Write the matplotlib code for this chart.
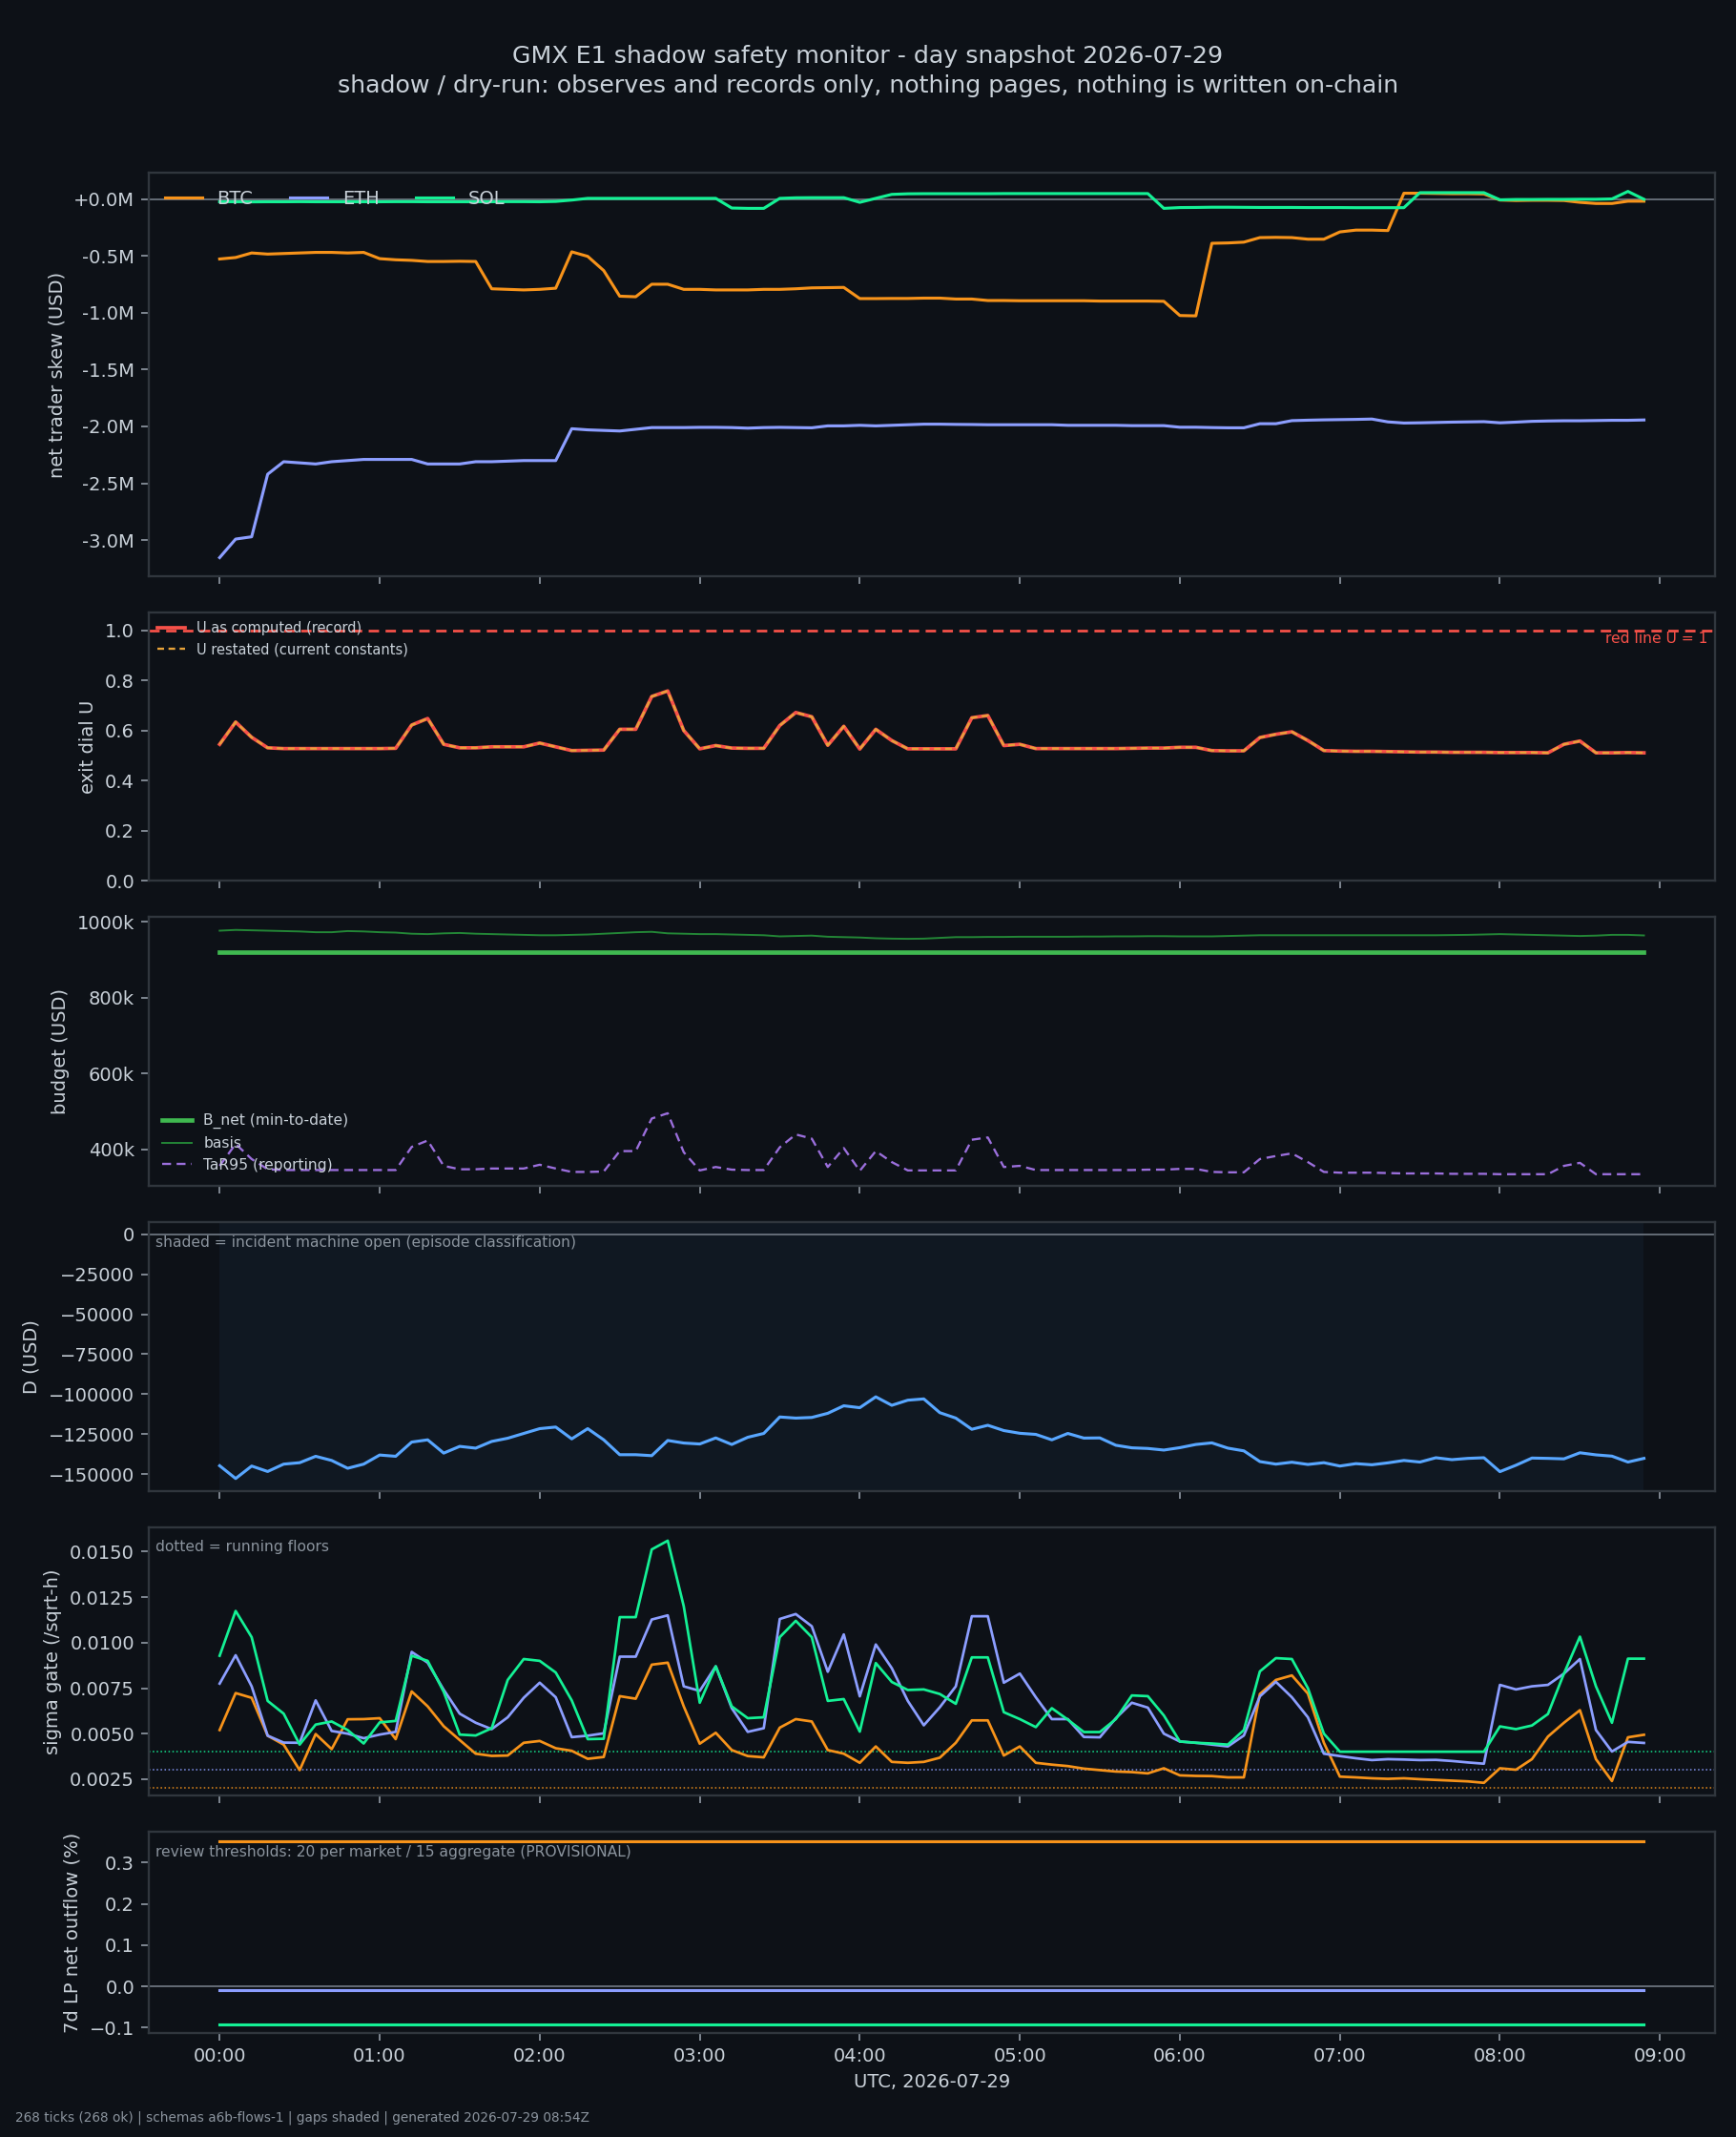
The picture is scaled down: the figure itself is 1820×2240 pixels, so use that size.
import numpy as np
import pandas as pd
import matplotlib
matplotlib.use("Agg")
import matplotlib.pyplot as plt
import matplotlib.dates as mdates
import matplotlib.transforms as mtransforms
from matplotlib.ticker import FuncFormatter, MultipleLocator

# ---- data (one sample every 6 min, 00:00 .. 08:54 UTC) ----
times = pd.date_range("2026-07-29 00:00", periods=90, freq="6min")

# net trader skew, million USD
skew_btc = [-0.528, -0.515, -0.475, -0.485, -0.48, -0.475, -0.47, -0.47, -0.475, -0.47,
            -0.525, -0.535, -0.54, -0.55, -0.55, -0.548, -0.55, -0.79, -0.795, -0.80,
            -0.795, -0.785, -0.465, -0.505, -0.63, -0.855, -0.86, -0.75, -0.75, -0.795,
            -0.795, -0.80, -0.80, -0.80, -0.795, -0.795, -0.79, -0.782, -0.78, -0.778,
            -0.876, -0.876, -0.875, -0.875, -0.872, -0.872, -0.88, -0.88, -0.893, -0.893,
            -0.895, -0.895, -0.895, -0.895, -0.895, -0.898, -0.898, -0.898, -0.898, -0.90,
            -1.025, -1.028, -0.39, -0.387, -0.38, -0.34, -0.338, -0.34, -0.354, -0.354,
            -0.29, -0.274, -0.274, -0.278, 0.05, 0.05, 0.048, 0.046, 0.046, 0.044,
            -0.01, -0.014, -0.012, -0.012, -0.014, -0.03, -0.04, -0.04, -0.02, -0.02]
skew_eth = [-3.153, -2.99, -2.97, -2.42, -2.31, -2.32, -2.33, -2.31, -2.30, -2.29,
            -2.29, -2.29, -2.29, -2.33, -2.33, -2.33, -2.31, -2.31, -2.305, -2.30,
            -2.30, -2.30, -2.02, -2.03, -2.035, -2.04, -2.025, -2.01, -2.01, -2.01,
            -2.008, -2.008, -2.01, -2.015, -2.01, -2.008, -2.01, -2.012, -1.995, -1.995,
            -1.99, -1.995, -1.99, -1.985, -1.98, -1.98, -1.982, -1.983, -1.985, -1.985,
            -1.985, -1.985, -1.985, -1.99, -1.99, -1.99, -1.99, -1.993, -1.993, -1.993,
            -2.007, -2.007, -2.01, -2.012, -2.012, -1.976, -1.976, -1.949, -1.945, -1.942,
            -1.94, -1.938, -1.935, -1.96, -1.97, -1.968, -1.965, -1.962, -1.96, -1.958,
            -1.968, -1.962, -1.955, -1.952, -1.95, -1.95, -1.948, -1.946, -1.946, -1.943]
skew_sol = [-0.025, -0.025, -0.026, -0.025, -0.025, -0.024, -0.025, -0.025, -0.025, -0.025,
            -0.025, -0.024, -0.024, -0.025, -0.025, -0.025, -0.025, -0.025, -0.024, -0.024,
            -0.025, -0.022, -0.01, 0.005, 0.005, 0.005, 0.005, 0.005, 0.005, 0.005,
            0.005, 0.005, -0.08, -0.083, -0.083, 0.005, 0.01, 0.011, 0.011, 0.011,
            -0.03, 0.005, 0.04, 0.045, 0.046, 0.046, 0.046, 0.046, 0.046, 0.047,
            0.047, 0.047, 0.047, 0.047, 0.047, 0.047, 0.047, 0.047, 0.047, -0.083,
            -0.076, -0.075, -0.073, -0.073, -0.074, -0.075, -0.075, -0.075, -0.076, -0.076,
            -0.076, -0.077, -0.077, -0.077, -0.077, 0.055, 0.055, 0.055, 0.055, 0.055,
            -0.008, -0.005, -0.005, -0.004, -0.004, -0.003, -0.003, 0.0, 0.066, -0.003]

# exit dial U
u_dial = [0.545, 0.634, 0.573, 0.531, 0.528, 0.528, 0.528, 0.528, 0.528, 0.528,
          0.528, 0.529, 0.622, 0.648, 0.545, 0.531, 0.531, 0.535, 0.535, 0.535,
          0.55, 0.535, 0.52, 0.521, 0.522, 0.605, 0.605, 0.736, 0.758, 0.60,
          0.527, 0.54, 0.53, 0.529, 0.529, 0.62, 0.672, 0.655, 0.541, 0.617,
          0.526, 0.605, 0.56, 0.527, 0.527, 0.527, 0.527, 0.651, 0.66, 0.54,
          0.545, 0.528, 0.528, 0.528, 0.528, 0.528, 0.528, 0.529, 0.53, 0.53,
          0.533, 0.533, 0.52, 0.519, 0.519, 0.572, 0.585, 0.595, 0.56, 0.52,
          0.518, 0.517, 0.517, 0.516, 0.515, 0.514, 0.514, 0.513, 0.513, 0.513,
          0.512, 0.512, 0.512, 0.511, 0.545, 0.558, 0.511, 0.511, 0.512, 0.511]

# budget, thousand USD
b_net = 920.4
basis = [977, 979, 978, 977, 976, 975, 973, 973, 976, 975,
         973, 972, 969, 968, 970, 971, 969, 968, 967, 966,
         965, 965, 966, 967, 969, 971, 973, 974, 970, 969,
         968, 968, 967, 966, 965, 962, 963, 964, 961, 960,
         959, 957, 956, 955.5, 956, 958, 960, 960, 960.5, 960.5,
         961, 961, 961, 961, 961.5, 961.5, 962, 962, 962.5, 962.5,
         962, 962, 962, 963, 964, 965, 965, 965, 965, 965,
         965, 965, 965, 965, 965, 965, 965, 965.5, 966, 967,
         968, 967, 966, 965, 964, 963, 964, 966, 966, 964.5]
tar95 = [356, 414, 374, 347, 345, 345, 345, 345, 345, 345,
         345, 345, 406, 423, 356, 347, 347, 349, 349, 349,
         359, 349, 340, 340, 341, 395, 395, 481, 495, 392,
         344, 353, 346, 345, 345, 405, 439, 428, 353, 403,
         343, 395, 366, 344, 344, 344, 344, 425, 431, 353,
         356, 345, 345, 345, 345, 345, 345, 345, 346, 346,
         348, 348, 340, 339, 339, 374, 382, 389, 366, 340,
         338, 338, 338, 337, 336, 336, 336, 335, 335, 335,
         334, 334, 334, 334, 356, 364, 334, 334, 334, 334]

# D, thousand USD
d_usd = [-144.8, -152.8, -145.0, -148.4, -143.8, -142.9, -138.9, -141.5, -146.4, -143.8,
         -138.1, -138.9, -130.0, -128.6, -136.9, -132.7, -133.8, -129.6, -127.6, -124.6,
         -121.6, -120.6, -128.0, -121.6, -128.6, -137.9, -137.9, -138.5, -129.0, -130.6,
         -131.2, -127.4, -131.5, -127.0, -124.6, -114.3, -115.0, -114.6, -112.0, -107.3,
         -108.5, -101.7, -107.0, -103.8, -103.0, -111.6, -115.0, -122.0, -119.5, -122.8,
         -124.5, -125.2, -128.6, -124.6, -127.5, -127.4, -132.0, -133.6, -134.0, -135.0,
         -133.5, -131.5, -130.5, -133.8, -135.5, -142.2, -143.8, -142.6, -144.0, -142.9,
         -145.0, -143.5, -144.2, -143.0, -141.5, -142.5, -139.8, -141.0, -140.2, -139.8,
         -148.5, -144.5, -140.0, -140.2, -140.5, -136.7, -138.0, -138.8, -142.5, -140.2]

# sigma gate, in 1e-3 /sqrt-h
sig_btc = [5.2, 7.23, 6.97, 4.89, 4.4, 3.0, 4.98, 4.15, 5.79, 5.8,
           5.85, 4.7, 7.32, 6.5, 5.41, 4.65, 3.9, 3.78, 3.8, 4.5,
           4.6, 4.2, 4.06, 3.62, 3.72, 7.06, 6.92, 8.79, 8.9, 6.5,
           4.45, 5.05, 4.1, 3.77, 3.7, 5.33, 5.8, 5.67, 4.1, 3.9,
           3.4, 4.3, 3.45, 3.4, 3.45, 3.68, 4.5, 5.73, 5.73, 3.8,
           4.3, 3.4, 3.3, 3.22, 3.08, 3.0, 2.92, 2.89, 2.82, 3.1,
           2.71, 2.68, 2.67, 2.6, 2.6, 7.18, 7.95, 8.2, 7.2, 4.5,
           2.64, 2.6, 2.55, 2.52, 2.55, 2.5, 2.46, 2.42, 2.38, 2.3,
           3.1, 3.02, 3.6, 4.84, 5.6, 6.29, 3.6, 2.4, 4.8, 4.94]
sig_eth = [7.75, 9.31, 7.6, 4.89, 4.51, 4.5, 6.83, 5.15, 5.0, 4.75,
           4.95, 5.1, 9.49, 8.9, 7.41, 6.1, 5.6, 5.25, 5.9, 6.97,
           7.8, 7.0, 4.81, 4.89, 5.02, 9.23, 9.23, 11.27, 11.5, 7.6,
           7.35, 8.7, 6.4, 5.1, 5.3, 11.3, 11.57, 10.9, 8.4, 10.45,
           7.05, 9.9, 8.6, 6.8, 5.46, 6.45, 7.6, 11.45, 11.45, 7.8,
           8.3, 7.0, 5.8, 5.8, 4.82, 4.8, 5.85, 6.7, 6.43, 5.0,
           4.57, 4.5, 4.4, 4.3, 4.9, 7.05, 7.85, 7.0, 5.9, 3.9,
           3.77, 3.65, 3.55, 3.6, 3.58, 3.55, 3.56, 3.5, 3.42, 3.35,
           7.68, 7.43, 7.6, 7.68, 8.3, 9.1, 5.2, 4.02, 4.55, 4.49]
sig_sol = [9.28, 11.74, 10.3, 6.8, 6.1, 4.4, 5.5, 5.67, 5.2, 4.46,
           5.62, 5.7, 9.28, 9.0, 7.3, 4.95, 4.9, 5.3, 7.95, 9.1,
           9.0, 8.36, 6.83, 4.7, 4.72, 11.4, 11.4, 15.12, 15.6, 12.0,
           6.7, 8.7, 6.5, 5.85, 5.9, 10.3, 11.2, 10.3, 6.8, 6.9,
           5.11, 8.88, 7.84, 7.4, 7.43, 7.18, 6.64, 9.19, 9.19, 6.18,
           5.8, 5.36, 6.4, 5.77, 5.09, 5.09, 5.8, 7.1, 7.06, 6.0,
           4.57, 4.5, 4.46, 4.4, 5.2, 8.42, 9.15, 9.1, 7.5, 5.0,
           4.01, 4.01, 4.01, 4.01, 4.01, 4.01, 4.01, 4.01, 4.01, 4.01,
           5.4, 5.25, 5.45, 6.08, 8.3, 10.33, 7.6, 5.6, 9.12, 9.12]
sig_floor = {"BTC": 0.0020, "ETH": 0.0030, "SOL": 0.0040}

# 7d LP net outflow, %
lp_outflow = {"BTC": 0.352, "ETH": -0.0085, "SOL": -0.0915}

# ---- style ----
BG = "#0d1117"
FG = "#c9d1d9"
MUTED = "#8b949e"
EDGE = "#30363d"
ZERO = "#6e7681"
C_BTC = "#f7931a"
C_ETH = "#8c9eff"
C_SOL = "#14f195"
market_colors = {"BTC": C_BTC, "ETH": C_ETH, "SOL": C_SOL}

plt.rcParams["font.family"] = ["DejaVu Sans"]

fig, axes = plt.subplots(6, 1, figsize=(13, 16), dpi=140, sharex=True,
                         gridspec_kw=dict(height_ratios=[3, 2, 2, 2, 2, 1.5], hspace=0.13,
                                          left=0.0855, right=0.988, top=0.919, bottom=0.0485))
fig.patch.set_facecolor(BG)
for ax in axes:
    ax.set_facecolor(BG)
    for sp in ax.spines.values():
        sp.set_color(EDGE)
        sp.set_linewidth(1.2)
    ax.tick_params(colors=MUTED, labelcolor=FG, labelsize=10, length=4, width=0.9)


def corner_note(ax, text):
    ax.annotate(text, xy=(0, 1), xycoords="axes fraction", xytext=(4, -7),
                textcoords="offset points", ha="left", va="top", fontsize=8, color=MUTED)


t = times
t_span = [times[0], times[-1]]

# 1: skew
ax = axes[0]
ax.axhline(0, color=ZERO, lw=0.9, zorder=1)
ax.plot(t, np.array(skew_btc) * 1e6, color=C_BTC, lw=1.6, label="BTC")
ax.plot(t, np.array(skew_eth) * 1e6, color=C_ETH, lw=1.6, label="ETH")
ax.plot(t, np.array(skew_sol) * 1e6, color=C_SOL, lw=1.6, label="SOL")
ax.yaxis.set_major_locator(MultipleLocator(0.5e6))
ax.yaxis.set_major_formatter(FuncFormatter(lambda v, p: f"{v / 1e6:+.1f}M"))
ax.set_ylim(-3.314e6, 0.227e6)
ax.set_ylabel("net trader skew (USD)", color=FG, fontsize=10)
leg = ax.legend(loc="upper left", ncol=3, frameon=False, fontsize=10)
for txt in leg.get_texts():
    txt.set_color(FG)

# 2: exit dial
ax = axes[1]
ax.axhline(1.0, color="#f85149", lw=1.4, ls=(0, (4, 2.5)))
ax.plot(t, u_dial, color="#f85149", lw=1.9, label="U as computed (record)")
ax.plot(t, u_dial, color="#e8a33a", lw=1.2, ls=(0, (3, 2)), label="U restated (current constants)")
trans = mtransforms.blended_transform_factory(ax.transAxes, ax.transData)
ax.text(0.995, 0.995, "red line U = 1", transform=trans, ha="right", va="top",
        fontsize=8, color="#f85149")
ax.set_ylim(0, 1.072)
ax.yaxis.set_major_locator(MultipleLocator(0.2))
ax.set_ylabel("exit dial U", color=FG, fontsize=10)
leg = ax.legend(loc="upper left", frameon=False, fontsize=7.5, borderaxespad=0.25)
for txt in leg.get_texts():
    txt.set_color(FG)

# 3: budget
ax = axes[2]
ax.plot(t_span, [b_net * 1e3, b_net * 1e3], color="#3fb950", lw=2.4, label="B_net (min-to-date)")
ax.plot(t, np.array(basis) * 1e3, color="#238636", lw=1.0, label="basis")
ax.plot(t, np.array(tar95) * 1e3, color="#9b6fdc", lw=1.2, ls=(0, (4, 2.5)), label="TaR95 (reporting)")
ax.yaxis.set_major_locator(MultipleLocator(200e3))
ax.yaxis.set_major_formatter(FuncFormatter(lambda v, p: f"{v / 1e3:.0f}k"))
ax.set_ylim(303.5e3, 1012.6e3)
ax.set_ylabel("budget (USD)", color=FG, fontsize=10)
leg = ax.legend(loc="lower left", frameon=False, fontsize=8)
for txt in leg.get_texts():
    txt.set_color(FG)

# 4: D
ax = axes[3]
ax.axvspan(times[0], times[-1], color="#58a6ff", alpha=0.05, lw=0)
ax.axhline(0, color=ZERO, lw=0.9)
ax.plot(t, np.array(d_usd) * 1e3, color="#58a6ff", lw=1.6)
ax.yaxis.set_major_locator(MultipleLocator(25000))
ax.set_ylim(-160.4e3, 7.6e3)
ax.set_ylabel("D (USD)", color=FG, fontsize=10)
corner_note(ax, "shaded = incident machine open (episode classification)")

# 5: sigma gate
ax = axes[4]
for name in ["SOL", "ETH", "BTC"]:
    ax.axhline(sig_floor[name], color=market_colors[name], lw=0.8, ls=":", alpha=0.9)
ax.plot(t, np.array(sig_btc) * 1e-3, color=C_BTC, lw=1.4)
ax.plot(t, np.array(sig_eth) * 1e-3, color=C_ETH, lw=1.4)
ax.plot(t, np.array(sig_sol) * 1e-3, color=C_SOL, lw=1.4)
ax.yaxis.set_major_locator(MultipleLocator(0.0025))
ax.yaxis.set_major_formatter(FuncFormatter(lambda v, p: f"{v:.4f}"))
ax.set_ylim(0.0016, 0.01635)
ax.set_ylabel("sigma gate (/sqrt-h)", color=FG, fontsize=10)
corner_note(ax, "dotted = running floors")

# 6: LP outflow
ax = axes[5]
ax.axhline(0, color=ZERO, lw=0.9)
for name in ["BTC", "ETH", "SOL"]:
    ax.plot(t_span, [lp_outflow[name], lp_outflow[name]], color=market_colors[name], lw=1.6)
ax.yaxis.set_major_locator(MultipleLocator(0.1))
ax.set_ylim(-0.1137, 0.374)
ax.set_ylabel("7d LP net outflow (%)", color=FG, fontsize=10)
corner_note(ax, "review thresholds: 20 per market / 15 aggregate (PROVISIONAL)")

ax.xaxis.set_major_locator(mdates.HourLocator(interval=1))
ax.xaxis.set_major_formatter(mdates.DateFormatter("%H:%M"))
ax.set_xlabel("UTC, 2026-07-29", color=FG, fontsize=10)

fig.suptitle("GMX E1 shadow safety monitor - day snapshot 2026-07-29\n"
             "shadow / dry-run: observes and records only, nothing pages, nothing is written on-chain",
             y=0.979, va="top", fontsize=13, color=FG, linespacing=1.35)
fig.text(0.009, 0.006, "268 ticks (268 ok) | schemas a6b-flows-1 | gaps shaded | generated 2026-07-29 08:54Z",
         fontsize=7, color=MUTED, ha="left", va="bottom")

fig.savefig("out.png", dpi=140, facecolor=BG)
